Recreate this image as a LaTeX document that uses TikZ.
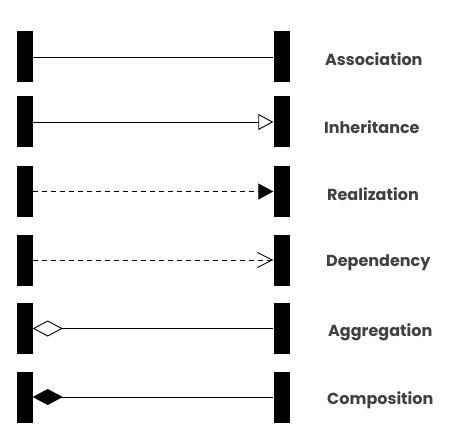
\documentclass[tikz,border=0pt]{standalone}
\usepackage{fontspec}
\setmainfont{Poppins}
\usetikzlibrary{arrows.meta}

\definecolor{labelgray}{RGB}{64,64,64}

\begin{document}
\begin{tikzpicture}[x=1pt, y=-1pt,
    bar/.style = {rectangle,
                  fill = black,
                  inner sep = 0pt,
                  minimum width = 16pt,
                  minimum height = 51pt},
    kind/.style = {anchor = west,
                   inner sep = 0pt,
                   text = labelgray,
                   font = \bfseries\fontsize{16}{18}\selectfont},
    link/.style = {line width = 0.9pt},
    dashlink/.style = {line width = 0.9pt, dash pattern = on 5pt off 4pt}
    ]

    \useasboundingbox (0,0) rectangle (449,438);

    % association
    \node[bar] (as1) at (24.5,57) {};
    \node[bar] (as2) at (281.5,57) {};
    \node[kind] (asl) at (325,59) {Association};

    % inheritance
    \node[bar] (in1) at (24.5,122) {};
    \node[bar] (in2) at (281.5,122) {};
    \node[kind] (inl) at (324,127) {Inheritance};

    % realization
    \node[bar] (re1) at (24.5,191.5) {};
    \node[bar] (re2) at (281.5,191.5) {};
    \node[kind] (rel) at (327,194) {Realization};

    % dependency
    \node[bar] (de1) at (24.5,260) {};
    \node[bar] (de2) at (281.5,260) {};
    \node[kind] (del) at (326,263) {Dependency};

    % aggregation
    \node[bar] (ag1) at (24.5,328.5) {};
    \node[bar] (ag2) at (281.5,328.5) {};
    \node[kind] (agl) at (328,332) {Aggregation};

    % composition
    \node[bar] (co1) at (24.5,397) {};
    \node[bar] (co2) at (281.5,397) {};
    \node[kind] (col) at (327,400) {Composition};

    \path
    (as1) edge [link] (as2)
    (in1) edge [link, -{Triangle[open, length=15pt, width=16pt]}] (in2)
    (re1) edge [dashlink, -{Triangle[length=15pt, width=16pt]}] (re2)
    (de1) edge [dashlink, -{Straight Barb[length=15pt, width=15pt]}] (de2)
    (ag1) edge [link, {Diamond[open, length=30pt, width=16pt]}-] (ag2)
    (co1) edge [link, {Diamond[length=30pt, width=16pt]}-] (co2) ;

\end{tikzpicture}
\end{document}
